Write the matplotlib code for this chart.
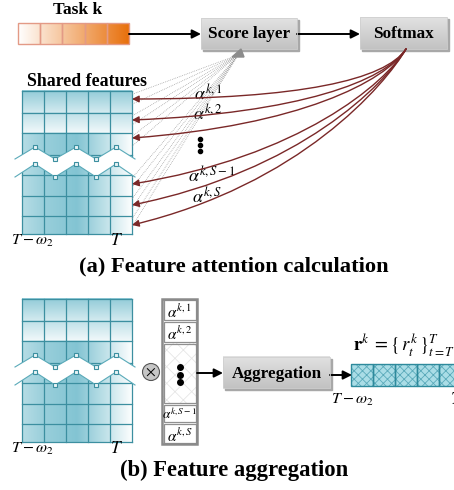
import numpy as np
import matplotlib.pyplot as plt
from matplotlib.patches import Rectangle, Polygon, Circle, FancyArrowPatch
from matplotlib.path import Path
from matplotlib.colors import to_rgb

plt.rcParams['font.family'] = ['Liberation Serif', 'DejaVu Serif']
plt.rcParams['mathtext.fontset'] = 'stix'
plt.rcParams['hatch.linewidth'] = 0.6

# ---- diagram content ----
task_title = "Task k"
n_task_cells = 5
n_cols = 5
row_edges = [0, 22, 42, 64, 84, 105, 125, 143]      # rows of the feature grid
arrow_rows = [8, 29, 47, 93, 114, 134]               # attention arrow targets
alpha_labels = [r"$\alpha^{k,1}$", r"$\alpha^{k,2}$",
                r"$\alpha^{k,S-1}$", r"$\alpha^{k,S}$"]
x_labels = [r"$T-\omega_2$", r"$T$"]
caption_a = "(a) Feature attention calculation"
caption_b = "(b) Feature aggregation"

TEAL = "#3C8FA0"
TEAL_DARK = np.array(to_rgb("#6DBACB"))
WHITE = np.array([1.0, 1.0, 1.0])
RED = "#7A2828"

fig = plt.figure(figsize=(4.54, 4.90), dpi=100)
ax = fig.add_axes([0, 0, 1, 1])


def grad_box(x0, y0, x1, y1, text, size=12.3):
    ax.add_patch(Rectangle((x0 + 2, y0 + 2), x1 - x0, y1 - y0,
                           color="#A8A8A8", zorder=2))
    g = np.linspace(0, 1, 40)[:, None, None]
    top = np.array(to_rgb("#E2E2E2"))
    bot = np.array(to_rgb("#C2C2C2"))
    img = np.repeat(top + g * (bot - top), 4, axis=1)
    ax.imshow(img, extent=(x0, x1, y1, y0), aspect="auto", zorder=3)
    ax.add_patch(Rectangle((x0, y0), x1 - x0, y1 - y0, fill=False,
                           ec="#D0D0D0", lw=0.6, zorder=4))
    ax.text((x0 + x1) / 2, (y0 + y1) / 2 + 1, text, ha="center", va="center",
            fontsize=size, fontweight="bold", zorder=5)


def arrow(x0, y0, x1, y1):
    ax.annotate("", xy=(x1, y1), xytext=(x0, y0),
                arrowprops=dict(arrowstyle="-|>", color="k", lw=1.4,
                                mutation_scale=13, shrinkA=0, shrinkB=0))


def feature_grid(x0, y0, cw=22):
    w = cw * n_cols
    h = row_edges[-1]
    # shading: vertical fade in the first two rows, column profile below
    xs = np.linspace(0, 1, 200)
    prof = np.interp(xs, [0, 0.2, 0.5, 0.75, 1.0], [0.5, 0.7, 0.85, 0.45, 0.02])
    ys = np.linspace(0, h, 260)
    inten = np.tile(prof, (len(ys), 1))
    for r in range(2):
        m = (ys >= row_edges[r]) & (ys < row_edges[r + 1])
        f = (ys[m] - row_edges[r]) / (row_edges[r + 1] - row_edges[r])
        inten[m, :] = (0.75 - 0.3 * r) - (0.45 - 0.1 * r) * f[:, None]
    img = WHITE + inten[..., None] * (TEAL_DARK - WHITE)
    ax.imshow(img, extent=(x0, x0 + w, y0 + h, y0), aspect="auto", zorder=1)
    for e in row_edges:
        ax.plot([x0, x0 + w], [y0 + e, y0 + e], color=TEAL, lw=0.9, zorder=2)
    for c in range(n_cols + 1):
        ax.plot([x0 + c * cw, x0 + c * cw], [y0, y0 + h], color=TEAL, lw=0.9,
                zorder=2)
    # break in the grid
    zx = [x0 - 7, x0 + 13, x0 + 33, x0 + 54, x0 + 74, x0 + 94, x0 + 113]
    ztop = [y0 + v for v in [68, 56, 68, 56, 68, 56, 68]]
    zbot = [y0 + v for v in [86, 73, 86, 73, 86, 73, 86]]
    band = list(zip(zx, ztop)) + list(zip(zx[::-1], zbot[::-1]))
    ax.add_patch(Polygon(band, closed=True, fc="white", ec="none", zorder=3))
    for zy in (ztop, zbot):
        ax.plot(zx, zy, color="#5AAAB9", lw=0.8, zorder=4)
        ax.plot(zx[1:-1], zy[1:-1], ls="none", marker="s", ms=3,
                mfc="#E8F4F6", mec=TEAL, mew=0.8, zorder=5)
    ax.text(x0 + 10, y0 + h + 7, x_labels[0], fontsize=11.5, ha="center",
            va="center")
    ax.text(x0 + 95, y0 + h + 7, x_labels[1], fontsize=12.5, ha="center",
            va="center")


# ================= (a) =================
ax.text(78, 10, task_title, ha="center", va="center", fontsize=12.5,
        fontweight="bold")
tx0, tw = 18, 111 / n_task_cells
g = np.linspace(0, 1, 200)[None, :, None]
orange = np.array(to_rgb("#E8700C"))
ax.imshow(np.repeat(WHITE + g * (orange - WHITE), 4, axis=0),
          extent=(tx0, tx0 + 111, 44, 23), aspect="auto", zorder=1)
for i in range(n_task_cells):
    ax.add_patch(Rectangle((tx0 + i * tw, 23), tw, 21, fill=False,
                           ec="#E39A86", lw=1.0, zorder=2))
arrow(129, 34, 201, 34)
grad_box(201, 18, 297, 49, "Score layer")
arrow(297, 34, 360, 34)
grad_box(360, 17, 447, 49, "Softmax")

ax.text(87, 81, "Shared features", ha="center", va="center", fontsize=12.8,
        fontweight="bold")
gx0, gy0 = 22, 91
feature_grid(gx0, gy0)
gx1 = gx0 + 22 * n_cols

# score connections (dotted)
for r in range(len(row_edges) - 1):
    if r == 3:
        continue
    for f in (0.15, 0.6):
        y = gy0 + row_edges[r] + f * (row_edges[r + 1] - row_edges[r])
        ax.plot([238, gx1], [55, y], ls=(0, (1, 1.4)), color="#999999",
                lw=0.55, zorder=6)
ax.add_patch(Polygon([(232, 57), (244, 57), (241, 49)], closed=True,
                     color="#8C8C8C", zorder=7))

# softmax weights to features (curved)
for yr in arrow_rows:
    y = gy0 + yr
    d = y - 99
    p = Path([(406, 49), (385, 80 + 0.04 * d), (300, y - 0.32 * d), (gx1, y)],
             [Path.MOVETO, Path.CURVE4, Path.CURVE4, Path.CURVE4])
    ax.add_patch(FancyArrowPatch(path=p, arrowstyle="-|>", color=RED,
                                 lw=1.0, mutation_scale=10, zorder=8))

ax.text(208, 94, alpha_labels[0], fontsize=13, ha="center", va="center")
ax.text(208, 114, alpha_labels[1], fontsize=13, ha="center", va="center")
for yd in (139, 145, 151):
    ax.plot(200, yd, "o", color="k", ms=3)
ax.text(212, 176, alpha_labels[2], fontsize=13, ha="center", va="center")
ax.text(207, 197, alpha_labels[3], fontsize=13, ha="center", va="center")

ax.text(234, 266, caption_a, ha="center", va="center", fontsize=16.2,
        fontweight="bold")

# ================= (b) =================
bx0, by0 = 22, 299
feature_grid(bx0, by0)

ax.add_patch(Circle((151, 372), 8.5, fc="#C6C6C6", ec="#555555", lw=0.8))
ax.text(151, 372, r"$\times$", ha="center", va="center", fontsize=11)

# attention weight column
ac_x0, ac_w = 162, 35
cells = [(299, 321, alpha_labels[0]), (321, 343, alpha_labels[1]),
         (343, 404, None), (404, 423, alpha_labels[2]),
         (423, 444, alpha_labels[3])]
for ya, yb, lab in cells:
    if lab is None:
        ax.add_patch(Rectangle((ac_x0, ya), ac_w, yb - ya, fc="white",
                               ec="#E6E6E6", hatch="xx", lw=0, zorder=1))
        for yd in (367, 374.5, 382):
            ax.plot(ac_x0 + ac_w / 2, yd, "o", color="k", ms=4, zorder=3)
    else:
        fs = 9.5 if "S-1" in lab else 11
        ax.text(ac_x0 + ac_w / 2, (ya + yb) / 2 + 1, lab, fontsize=fs,
                ha="center", va="center", zorder=3)
    ax.add_patch(Rectangle((ac_x0 + 1.5, ya + 1.2), ac_w - 3, yb - ya - 2.4,
                           fill=False, ec="#909090", lw=0.9, zorder=2))
ax.add_patch(Rectangle((ac_x0, 299), ac_w, 145, fill=False, ec="#8A8A8A",
                       lw=1.8, zorder=2))

arrow(197, 373, 223, 373)
grad_box(223, 357, 330, 388, "Aggregation")
arrow(330, 375, 352, 375)

# aggregated representation
rx0, rw = 351, 22
for i in range(6):
    ax.add_patch(Rectangle((rx0 + i * rw, 364), rw, 22, fc="#AADDE6",
                           ec="#5BAABA", hatch="xxxx", lw=0, zorder=1))
    ax.add_patch(Rectangle((rx0 + i * rw, 364), rw, 22, fill=False,
                           ec="#2E8A9C", lw=1.0, zorder=2))
ax.text(353, 346, r"$\mathbf{r}^{k}\;=\{\,r_t^{k}\,\}_{t=T-\omega_2}^{T}$",
        fontsize=13.5, ha="left", va="center")
ax.text(352, 400, x_labels[0], fontsize=11.5, ha="center", va="center")
ax.text(456, 400, x_labels[1], fontsize=12.5, ha="center", va="center")

ax.text(234, 470, caption_b, ha="center", va="center", fontsize=16.3,
        fontweight="bold")

ax.set_xlim(0, 454)
ax.set_ylim(490, 0)
ax.axis("off")
fig.savefig("out.png", dpi=100)
